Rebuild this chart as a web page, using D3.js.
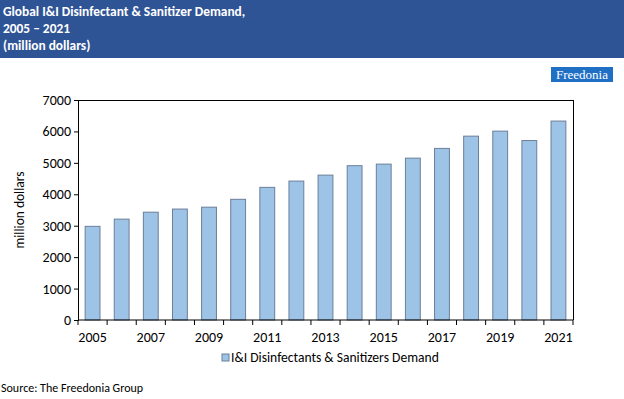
<!DOCTYPE html>
<meta charset="utf-8">
<script src="https://d3js.org/d3.v7.min.js"></script>
<style>
  body { margin: 0; padding: 0; background: white; }
  svg text { font-family: Calibri, Carlito, "Open Sans", "Noto Sans", sans-serif; }
</style>
<body>
<svg id="chart" width="624" height="399"></svg>
<script>
  // data
  var years = ["2005","2006","2007","2008","2009","2010","2011","2012","2013",
               "2014","2015","2016","2017","2018","2019","2020","2021"];
  var demand = [2980, 3210, 3430, 3530, 3590, 3840, 4220, 4420, 4610,
                4910, 4960, 5150, 5460, 5850, 6010, 5710, 6330];
  var yTicks = [0, 1000, 2000, 3000, 4000, 5000, 6000, 7000];
  var xLabels = ["2005","2007","2009","2011","2013","2015","2017","2019","2021"];
  var titleLines = ["Global I&I Disinfectant & Sanitizer Demand,", "2005 \u2013 2021", "(million dollars)"];
  var seriesName = "I&I Disinfectants & Sanitizers Demand";

  var svg = d3.select("#chart");

  // header band
  svg.append("rect").attr("x", 0).attr("y", 0).attr("width", 624).attr("height", 58)
    .attr("fill", "#2F5496");
  svg.selectAll(".title").data(titleLines).enter().append("text")
    .attr("x", 3).attr("y", function (d, i) { return 16 + i * 17 })
    .attr("fill", "white").style("font-size", "13.4px").style("font-weight", "bold")
    .text(function (d) { return d });

  // Freedonia logo
  svg.append("rect").attr("x", 551).attr("y", 67).attr("width", 62).attr("height", 15)
    .attr("fill", "#1F6FC5");
  svg.append("text").attr("x", 582).attr("y", 79).attr("text-anchor", "middle")
    .attr("fill", "white").style("font-family", "'Liberation Serif', serif").style("font-size", "13px")
    .text("Freedonia");

  var margin = { left: 78, right: 51, top: 100, bottom: 79 };
  var width = 624 - margin.left - margin.right,
      height = 399 - margin.top - margin.bottom;

  var g = svg.append("g").attr("transform", "translate(" + margin.left + "," + margin.top + ")");

  var x = d3.scaleBand().domain(years).range([0, width]).paddingInner(0.49).paddingOuter(0.245);
  var y = d3.scaleLinear().domain([0, 7000]).range([height, 0]);

  // bars
  g.selectAll(".bar").data(demand).enter().append("rect")
    .attr("x", function (d, i) { return x(years[i]) })
    .attr("y", function (d) { return y(d) })
    .attr("width", x.bandwidth())
    .attr("height", function (d) { return height - y(d) })
    .attr("fill", "#9DC3E6")
    .attr("stroke", "#6B7F99")
    .attr("stroke-width", 1);

  // plot frame (top and right)
  g.append("line").attr("x1", 0).attr("x2", width).attr("y1", 0.5).attr("y2", 0.5)
    .attr("stroke", "#000").attr("stroke-width", 1);
  g.append("line").attr("x1", width + 0.5).attr("x2", width + 0.5).attr("y1", 0).attr("y2", height)
    .attr("stroke", "#000").attr("stroke-width", 1);

  // y axis
  var yAxis = g.append("g").call(d3.axisLeft(y).tickValues(yTicks).tickSize(4).tickFormat(d3.format("d")));
  yAxis.select(".domain").attr("stroke", "#000");
  yAxis.selectAll("text").style("font-size", "14px").attr("fill", "#000")
    .style("font-family", "Calibri, Carlito, 'Open Sans', sans-serif");

  // x axis: ticks at category boundaries, labels on alternate years
  var bounds = d3.range(years.length + 1).map(function (i) { return i * width / years.length });
  var xAxis = g.append("g").attr("transform", "translate(0," + height + ")");
  xAxis.append("line").attr("x1", 0).attr("x2", width).attr("y1", 0).attr("y2", 0).attr("stroke", "#000");
  xAxis.selectAll(".tk").data(bounds).enter().append("line")
    .attr("x1", function (d) { return d }).attr("x2", function (d) { return d })
    .attr("y1", 0).attr("y2", 5).attr("stroke", "#000");
  xAxis.selectAll(".lbl").data(xLabels).enter().append("text")
    .attr("x", function (d) { return x(d) + x.bandwidth() / 2 })
    .attr("y", 22).attr("text-anchor", "middle").attr("fill", "#000")
    .style("font-size", "14px").text(function (d) { return d });

  // y axis title
  svg.append("text").attr("transform", "translate(24," + (margin.top + height / 2) + ") rotate(-90)")
    .attr("text-anchor", "middle").attr("fill", "#000").style("font-size", "13.5px")
    .text("million dollars");

  // legend
  svg.append("rect").attr("x", 222).attr("y", 354).attr("width", 7).attr("height", 7)
    .attr("fill", "#9DC3E6").attr("stroke", "#6B7F99");
  svg.append("text").attr("x", 231).attr("y", 362).attr("fill", "#000").style("font-size", "13.6px")
    .text(seriesName);

  // source
  svg.append("text").attr("x", 1).attr("y", 392).attr("fill", "#000").style("font-size", "12px")
    .text("Source: The Freedonia Group");
</script>
</body>
